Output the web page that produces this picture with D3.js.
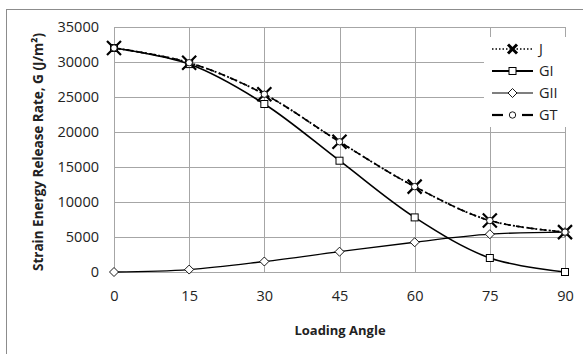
<!DOCTYPE html>
<html>
<head>
<meta charset="utf-8">
<script src="https://cdn.jsdelivr.net/npm/d3@7"></script>
<style>
  body { margin: 0; background: #fff; }
  text { font-family: "Open Sans", sans-serif; fill: #222; }
</style>
</head>
<body>
<script>
// chart data
var angles = [0, 15, 30, 45, 60, 75, 90];
var J   = [32000, 29900, 25400, 18600, 12200, 7350, 5700];
var GI  = [32000, 29700, 24000, 15900, 7800, 2000, 0];
var GII = [0, 350, 1500, 2900, 4250, 5400, 5700];
var GT  = [32000, 29900, 25400, 18600, 12200, 7350, 5700];
var yTicks = [0, 5000, 10000, 15000, 20000, 25000, 30000, 35000];
var xTicks = [0, 15, 30, 45, 60, 75, 90];
var seriesNames = ["J", "GI", "GII", "GT"];

window.onload = function(){
  var w = 583, h = 354;
  var svg = d3.select("body").append("svg")
    .attr("width", w)
    .attr("height", h);

  // outer chart frame
  svg.append("rect")
    .attr("x", 6.5).attr("y", 9.5)
    .attr("width", 600).attr("height", 400)
    .attr("fill", "none")
    .attr("stroke", "#8c8c8c");

  var x = d3.scaleLinear().domain([0, 90]).range([114, 565]);
  var y = d3.scaleLinear().domain([0, 35000]).range([272, 27]);

  // grid
  var grid = svg.append("g").attr("stroke", "#a6a6a6").attr("stroke-width", 1);
  grid.selectAll(".hg").data(yTicks).enter().append("line")
    .attr("x1", x(0)).attr("x2", x(90))
    .attr("y1", function(d){ return Math.round(y(d)) + 0.5; })
    .attr("y2", function(d){ return Math.round(y(d)) + 0.5; });
  grid.selectAll(".vg").data(xTicks).enter().append("line")
    .attr("y1", y(0)).attr("y2", y(35000))
    .attr("x1", function(d){ return Math.round(x(d)) + 0.5; })
    .attr("x2", function(d){ return Math.round(x(d)) + 0.5; });

  // axes (labels only, Excel style)
  var yAxis = svg.append("g")
    .attr("transform", "translate(" + x(0) + ",0)")
    .call(d3.axisLeft(y).tickValues(yTicks).tickFormat(d3.format("d")).tickSize(0).tickPadding(15));
  var xAxis = svg.append("g")
    .attr("transform", "translate(0," + y(0) + ")")
    .call(d3.axisBottom(x).tickValues(xTicks).tickFormat(d3.format("d")).tickSize(0).tickPadding(19));
  [yAxis, xAxis].forEach(function(a){
    a.select(".domain").remove();
    a.selectAll("text")
      .style("font-family", "Open Sans, sans-serif")
      .style("font-size", "14.5px")
      .attr("fill", "#333");
  });

  // axis titles
  svg.append("text")
    .attr("transform", "translate(43,152) rotate(-90)")
    .attr("text-anchor", "middle")
    .attr("textLength", 238)
    .attr("lengthAdjust", "spacingAndGlyphs")
    .style("font-size", "14px")
    .style("font-weight", "bold")
    .text("Strain Energy Release Rate, G (J/m²)");
  svg.append("text")
    .attr("x", 340).attr("y", 335)
    .attr("text-anchor", "middle")
    .style("font-size", "13px")
    .style("font-weight", "bold")
    .text("Loading Angle");

  var line = d3.line()
    .x(function(d, i){ return x(angles[i]); })
    .y(function(d){ return y(d); })
    .curve(d3.curveCatmullRom.alpha(0.5));

  var styles = {
    J:   { data: J,   width: 1.8, dash: "2,2.5" },
    GI:  { data: GI,  width: 1.6, dash: null },
    GII: { data: GII, width: 1.3, dash: null },
    GT:  { data: GT,  width: 1.6, dash: "7,5" }
  };

  ["GII", "GI", "GT", "J"].forEach(function(k){
    svg.append("path")
      .datum(styles[k].data)
      .attr("d", line)
      .attr("fill", "none")
      .attr("stroke", "#000")
      .attr("stroke-width", styles[k].width)
      .attr("stroke-dasharray", styles[k].dash);
  });

  // marker drawing helper
  function marker(g, type, cx, cy, big){
    if (type === "GI") {
      var s = 7;
      g.append("rect").attr("x", cx - s/2).attr("y", cy - s/2)
        .attr("width", s).attr("height", s)
        .attr("fill", "#fff").attr("stroke", "#000").attr("stroke-width", 1);
    } else if (type === "GII") {
      var r = 4.5;
      g.append("path")
        .attr("d", "M" + cx + "," + (cy - r) + "L" + (cx + r) + "," + cy + "L" + cx + "," + (cy + r) + "L" + (cx - r) + "," + cy + "Z")
        .attr("fill", "#fff").attr("stroke", "#000").attr("stroke-width", 0.9);
    } else if (type === "GT") {
      g.append("circle").attr("cx", cx).attr("cy", cy).attr("r", 3.2)
        .attr("fill", "#fff").attr("stroke", "#000").attr("stroke-width", 0.9);
    } else if (type === "J") {
      var a = big ? 7 : 4.5;
      g.append("path")
        .attr("d", "M" + (cx - a) + "," + (cy - a) + "L" + (cx + a) + "," + (cy + a) +
                   "M" + (cx + a) + "," + (cy - a) + "L" + (cx - a) + "," + (cy + a))
        .attr("stroke", "#000").attr("stroke-width", big ? 2.2 : 3)
        .attr("fill", "none");
    }
  }

  var marks = svg.append("g");
  ["GII", "GI", "J", "GT"].forEach(function(k){
    styles[k].data.forEach(function(d, i){
      marker(marks, k, x(angles[i]), y(d), true);
    });
  });

  // legend
  var lg = svg.append("g");
  lg.append("rect")
    .attr("x", 484).attr("y", 37)
    .attr("width", 83).attr("height", 90)
    .attr("fill", "#fff");
  seriesNames.forEach(function(k, i){
    var ly = 49 + i * 22;
    var row = lg.append("g");
    if (k === "GT") {
      row.append("line").attr("x1", 492).attr("x2", 503).attr("y1", ly).attr("y2", ly)
        .attr("stroke", "#000").attr("stroke-width", 2.2);
      row.append("line").attr("x1", 522).attr("x2", 533).attr("y1", ly).attr("y2", ly)
        .attr("stroke", "#000").attr("stroke-width", 2.2);
    } else {
      row.append("line").attr("x1", 492).attr("x2", 533).attr("y1", ly).attr("y2", ly)
        .attr("stroke", "#000")
        .attr("stroke-width", k === "GI" ? 2 : (k === "GII" ? 1.2 : 1.5))
        .attr("stroke-dasharray", k === "J" ? "1.5,2" : null);
    }
    marker(row, k, 512.5, ly, false);
    row.append("text")
      .attr("x", 539).attr("y", ly + 5)
      .style("font-size", "14.5px")
      .text(k);
  });
};
</script>
</body>
</html>
